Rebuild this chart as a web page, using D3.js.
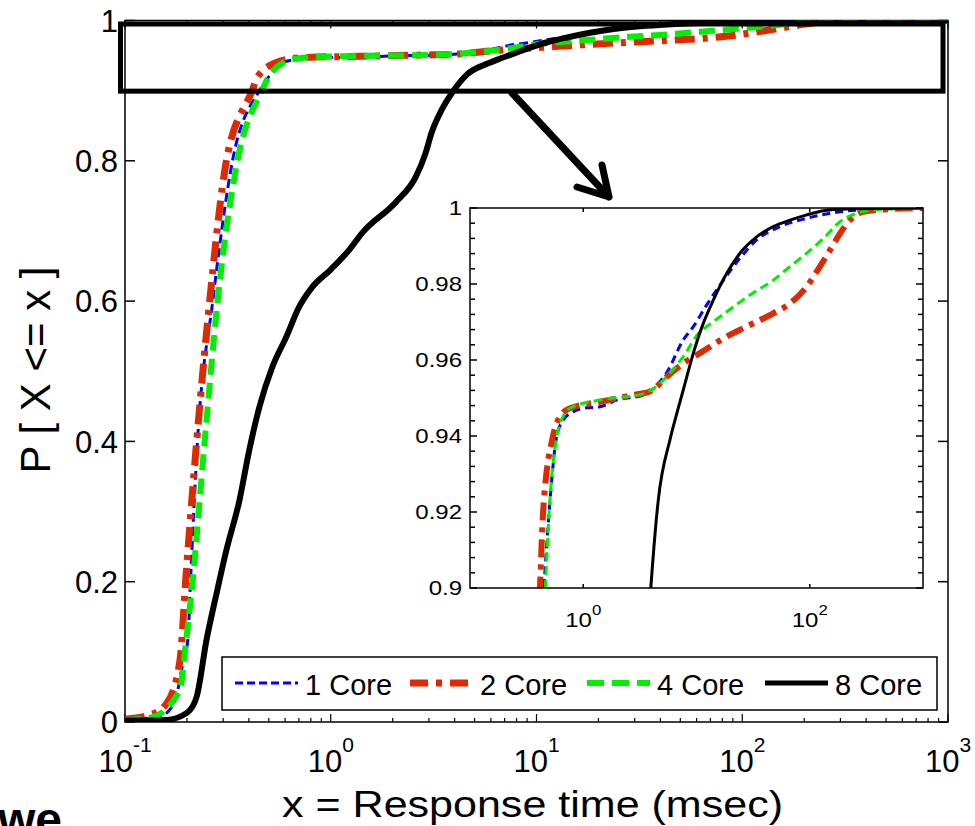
<!DOCTYPE html>
<html>
<head>
  <meta charset="utf-8">
  <title>Response time CDF</title>
  <script src="https://cdn.jsdelivr.net/npm/d3@7"></script>
  <style>
    body { margin: 0; background: #fff; }
    text { font-family: "Liberation Sans", Arial, sans-serif; fill: #000; }
  </style>
</head>
<body>
<script>
  // [response time (msec), P(X <= x)]
  var core1 = [[0.1,0.003],[0.148,0.008],[0.175,0.03],[0.19,0.08],[0.202,0.117],[0.208,0.2],[0.225,0.4],
    [0.267,0.6],[0.333,0.8],[0.45,0.9],[0.5,0.92],[0.583,0.94],[0.667,0.9442],[0.817,0.9464],[1.0,0.9473],
    [1.41,0.9477],[2.0,0.9495],[3.39,0.9508],[5.46,0.9567],[7.64,0.9653],[9.38,0.9688],[12.3,0.9745],
    [17.3,0.981],[24.2,0.9868],[34,0.9916],[54.6,0.9951],[94,0.9973],[185,0.999],[363,0.9997],[1000,1]];
  var core2 = [[0.1,0.004],[0.132,0.01],[0.16,0.027],[0.185,0.088],[0.197,0.2],[0.223,0.4],[0.258,0.6],
    [0.311,0.8],[0.415,0.9],[0.442,0.92],[0.541,0.94],[0.624,0.9451],[0.764,0.9473],[1.41,0.949],[2.77,0.9508],
    [3.88,0.9517],[5.46,0.9556],[7.64,0.9591],[10.7,0.9618],[17.3,0.9657],[27.7,0.9688],[47.6,0.9723],
    [67,0.9749],[94,0.9793],[123,0.9846],[151,0.9889],[185,0.9933],[226,0.9968],[297,0.999],[512,0.9997],[1000,1]];
  var core4 = [[0.1,0.003],[0.132,0.006],[0.185,0.046],[0.195,0.098],[0.213,0.2],[0.244,0.4],[0.282,0.6],
    [0.352,0.8],[0.463,0.9],[0.5,0.92],[0.586,0.94],[0.66,0.945],[0.764,0.9473],[1.41,0.9495],[3.39,0.9511],
    [5.46,0.9556],[7.64,0.9609],[10.7,0.9674],[12.3,0.9688],[18.5,0.9727],[29.6,0.9771],[47.6,0.981],
    [67,0.9846],[94,0.9881],[132,0.992],[185,0.9964],[259,0.9986],[364,0.9995],[1000,1]];
  var core8 = [[0.1,0.002],[0.159,0.003],[0.2,0.013],[0.223,0.036],[0.249,0.117],[0.279,0.184],[0.311,0.245],
    [0.36,0.316],[0.402,0.388],[0.45,0.449],[0.52,0.506],[0.608,0.549],[0.703,0.592],[0.813,0.62],[1.0,0.645],
    [1.23,0.673],[1.42,0.697],[2.07,0.741],[2.59,0.777],[2.89,0.811],[3.09,0.84],[3.45,0.872],[3.95,0.9],
    [4.6,0.9232],[5.83,0.939],[6.46,0.9442],[7.64,0.9521],[9.38,0.9618],[11.5,0.9697],[14.1,0.9758],
    [18.5,0.9828],[24.2,0.9881],[34,0.9924],[47.6,0.9951],[67,0.9968],[94,0.9982],[132,0.9993],[185,0.9997],[1000,1]];

  var seriesNames = ["1 Core", "2 Core", "4 Core", "8 Core"];
  var mainYTicks = [0, 0.2, 0.4, 0.6, 0.8, 1];
  var mainXTicks = [0.1, 1, 10, 100, 1000];
  var insetYTicks = [0.9, 0.92, 0.94, 0.96, 0.98, 1];
  var insetXTicks = [1, 100];

  var series = [
    {name: seriesNames[0], data: core1, color: "#0000ff", w: 3, dash: "9,5", wIn: 3, dashIn: "8,5", wLeg: 3, dashLeg: "8,4"},
    {name: seriesNames[1], data: core2, color: "#dd2a00", w: 7, dash: "20,8,5,8", wIn: 6, dashIn: "18,7,5,7", wLeg: 7, dashLeg: "18,8,6,8"},
    {name: seriesNames[2], data: core4, color: "#00ee00", w: 6, dash: "16,8", wIn: 3, dashIn: "9,5", wLeg: 6, dashLeg: "17,8"},
    {name: seriesNames[3], data: core8, color: "#000000", w: 6, dash: null, wIn: 3, dashIn: null, wLeg: 5, dashLeg: null}
  ];

  var width = 975, height = 826;

  var svg = d3.select("body").append("svg")
    .attr("width", width)
    .attr("height", height);

  var x = d3.scaleLog().domain([0.1, 1000]).range([125, 948]);
  var y = d3.scaleLinear().domain([0, 1]).range([722, 20.5]);
  var xIn = d3.scaleLog().domain([0.1, 1000]).range([470, 923]);
  var yIn = d3.scaleLinear().domain([0.9, 1]).range([588, 208]);

  function isDecade(d) {
    var l = Math.log10(d);
    return Math.abs(l - Math.round(l)) < 1e-6;
  }

  var defs = svg.append("defs");
  defs.append("clipPath").attr("id", "clipMain").append("rect")
    .attr("x", x(0.1)).attr("y", y(1))
    .attr("width", x(1000) - x(0.1)).attr("height", y(0) - y(1));
  defs.append("clipPath").attr("id", "clipIn").append("rect")
    .attr("x", xIn(0.1)).attr("y", yIn(1))
    .attr("width", xIn(1000) - xIn(0.1)).attr("height", yIn(0.9) - yIn(1));

  // ---- main axes ----
  var frame = svg.append("g").attr("stroke", "#000").attr("stroke-width", 1.5).attr("fill", "none");
  frame.append("rect")
    .attr("x", x(0.1)).attr("y", y(1))
    .attr("width", x(1000) - x(0.1)).attr("height", y(0) - y(1));

  var logTicks = x.ticks();
  frame.selectAll("line.bt").data(logTicks).enter().append("line")
    .attr("x1", function(d) { return x(d); }).attr("x2", function(d) { return x(d); })
    .attr("y1", y(0)).attr("y2", function(d) { return y(0) - (isDecade(d) ? 8 : 4); })
    .attr("stroke-width", 1.2);
  frame.selectAll("line.tt").data(logTicks).enter().append("line")
    .attr("x1", function(d) { return x(d); }).attr("x2", function(d) { return x(d); })
    .attr("y1", y(1)).attr("y2", function(d) { return y(1) + (isDecade(d) ? 8 : 4); })
    .attr("stroke-width", 1.2);
  frame.selectAll("line.lt").data(mainYTicks).enter().append("line")
    .attr("x1", x(0.1)).attr("x2", x(0.1) + 10)
    .attr("y1", function(d) { return y(d); }).attr("y2", function(d) { return y(d); });
  frame.selectAll("line.rt").data(mainYTicks).enter().append("line")
    .attr("x1", x(1000)).attr("x2", x(1000) - 10)
    .attr("y1", function(d) { return y(d); }).attr("y2", function(d) { return y(d); });

  svg.append("g").selectAll("text").data(mainYTicks).enter().append("text")
    .attr("x", 118).attr("y", function(d) { return y(d); })
    .attr("dy", "0.36em")
    .attr("text-anchor", "end")
    .style("font-size", "31px")
    .text(function(d) { return String(d); });

  var xl = svg.append("g").selectAll("text").data(mainXTicks).enter().append("text")
    .attr("x", function(d) { return x(d); }).attr("y", 772)
    .attr("text-anchor", "middle")
    .style("font-size", "31px");
  xl.append("tspan").text("10");
  xl.append("tspan").attr("dy", -20).style("font-size", "21px")
    .text(function(d) { return String(Math.round(Math.log10(d))); });

  svg.append("text")
    .attr("x", 282).attr("y", 817)
    .attr("textLength", 501).attr("lengthAdjust", "spacingAndGlyphs")
    .style("font-size", "37px")
    .text("x = Response time (msec)");

  svg.append("text")
    .attr("transform", "translate(50,370) rotate(-90)")
    .attr("text-anchor", "middle")
    .style("font-size", "42px")
    .text("P [ X <= x ]");

  svg.append("text")
    .attr("x", -2).attr("y", 836)
    .style("font-size", "48px").style("font-weight", "bold")
    .text("we");

  // ---- main curves ----
  var line = d3.line()
    .x(function(d) { return x(d[0]); })
    .y(function(d) { return y(d[1]); })
    .curve(d3.curveMonotoneX);

  svg.append("g").attr("clip-path", "url(#clipMain)")
    .selectAll("path").data(series).enter().append("path")
    .attr("d", function(d) { return line(d.data); })
    .attr("fill", "none")
    .attr("stroke", function(d) { return d.color; })
    .attr("stroke-width", function(d) { return d.w; })
    .attr("stroke-dasharray", function(d) { return d.dash; })
    .attr("stroke-linejoin", "round");

  // zoom box and arrow
  svg.append("rect")
    .attr("x", x(0.1) - 4.5).attr("y", y(1) + 3.5)
    .attr("width", (x(1000) - 5) - (x(0.1) - 4.5))
    .attr("height", y(0.9) + 0.5 - (y(1) + 3.5))
    .attr("fill", "none").attr("stroke", "#000").attr("stroke-width", 5);

  svg.append("path")
    .attr("d", "M512,93 L609,197 M577,187 L609,197 L602,165")
    .attr("fill", "none").attr("stroke", "#000").attr("stroke-width", 7)
    .attr("stroke-linecap", "round").attr("stroke-linejoin", "round");

  // ---- inset ----
  var inset = svg.append("g");
  inset.append("rect")
    .attr("x", xIn(0.1)).attr("y", yIn(1))
    .attr("width", xIn(1000) - xIn(0.1)).attr("height", yIn(0.9) - yIn(1))
    .attr("fill", "#fff");

  var lineIn = d3.line()
    .x(function(d) { return xIn(d[0]); })
    .y(function(d) { return yIn(d[1]); })
    .curve(d3.curveMonotoneX);

  inset.append("g").attr("clip-path", "url(#clipIn)")
    .selectAll("path").data(series).enter().append("path")
    .attr("d", function(d) { return lineIn(d.data); })
    .attr("fill", "none")
    .attr("stroke", function(d) { return d.color; })
    .attr("stroke-width", function(d) { return d.wIn; })
    .attr("stroke-dasharray", function(d) { return d.dashIn; })
    .attr("stroke-linejoin", "round");

  var fIn = inset.append("g").attr("stroke", "#000").attr("stroke-width", 1.5).attr("fill", "none");
  fIn.append("rect")
    .attr("x", xIn(0.1)).attr("y", yIn(1))
    .attr("width", xIn(1000) - xIn(0.1)).attr("height", yIn(0.9) - yIn(1));

  var inMinor = d3.range(0, 26).map(function(i) { return { v: 0.9 + i * 0.004, major: i % 5 === 0 }; });
  fIn.selectAll("line.l").data(inMinor).enter().append("line")
    .attr("x1", xIn(0.1)).attr("x2", function(d) { return xIn(0.1) + (d.major ? 7 : 5); })
    .attr("y1", function(d) { return yIn(d.v); }).attr("y2", function(d) { return yIn(d.v); });
  fIn.selectAll("line.r").data(inMinor).enter().append("line")
    .attr("x1", xIn(1000)).attr("x2", function(d) { return xIn(1000) - (d.major ? 7 : 5); })
    .attr("y1", function(d) { return yIn(d.v); }).attr("y2", function(d) { return yIn(d.v); });
  fIn.selectAll("line.b").data(insetXTicks).enter().append("line")
    .attr("x1", function(d) { return xIn(d); }).attr("x2", function(d) { return xIn(d); })
    .attr("y1", yIn(0.9)).attr("y2", yIn(0.9) - 4);
  fIn.selectAll("line.t").data(insetXTicks).enter().append("line")
    .attr("x1", function(d) { return xIn(d); }).attr("x2", function(d) { return xIn(d); })
    .attr("y1", yIn(1)).attr("y2", yIn(1) + 4);

  inset.append("g").selectAll("text").data(insetYTicks).enter().append("text")
    .attr("transform", function(d) { return "translate(462," + yIn(d) + ") scale(1.2,1)"; })
    .attr("dy", "0.36em")
    .attr("text-anchor", "end")
    .style("font-size", "20px")
    .text(function(d) { return String(d); });

  var xlIn = inset.append("g").selectAll("text").data(insetXTicks).enter().append("text")
    .attr("transform", function(d) { return "translate(" + xIn(d) + ",627) scale(1.2,1)"; })
    .attr("text-anchor", "middle")
    .style("font-size", "20px");
  xlIn.append("tspan").text("10");
  xlIn.append("tspan").attr("dy", -12).style("font-size", "14px")
    .text(function(d) { return String(Math.round(Math.log10(d))); });

  // ---- legend ----
  var legendLineX = [235, 410, 587, 765];
  var legend = svg.append("g");
  legend.append("rect")
    .attr("x", 222).attr("y", 657).attr("width", 715).attr("height", 53)
    .attr("fill", "#fff").attr("stroke", "#000").attr("stroke-width", 1.5);

  var items = legend.selectAll("g.item").data(series).enter().append("g")
    .attr("transform", function(d, i) { return "translate(" + legendLineX[i] + ",0)"; });
  items.append("line")
    .attr("x1", 0).attr("x2", 63).attr("y1", 683).attr("y2", 683)
    .attr("stroke", function(d) { return d.color; })
    .attr("stroke-width", function(d) { return d.wLeg; })
    .attr("stroke-dasharray", function(d) { return d.dashLeg; });
  items.append("text")
    .attr("x", 70).attr("y", 695)
    .style("font-size", "29px")
    .text(function(d) { return d.name; });
</script>
</body>
</html>
